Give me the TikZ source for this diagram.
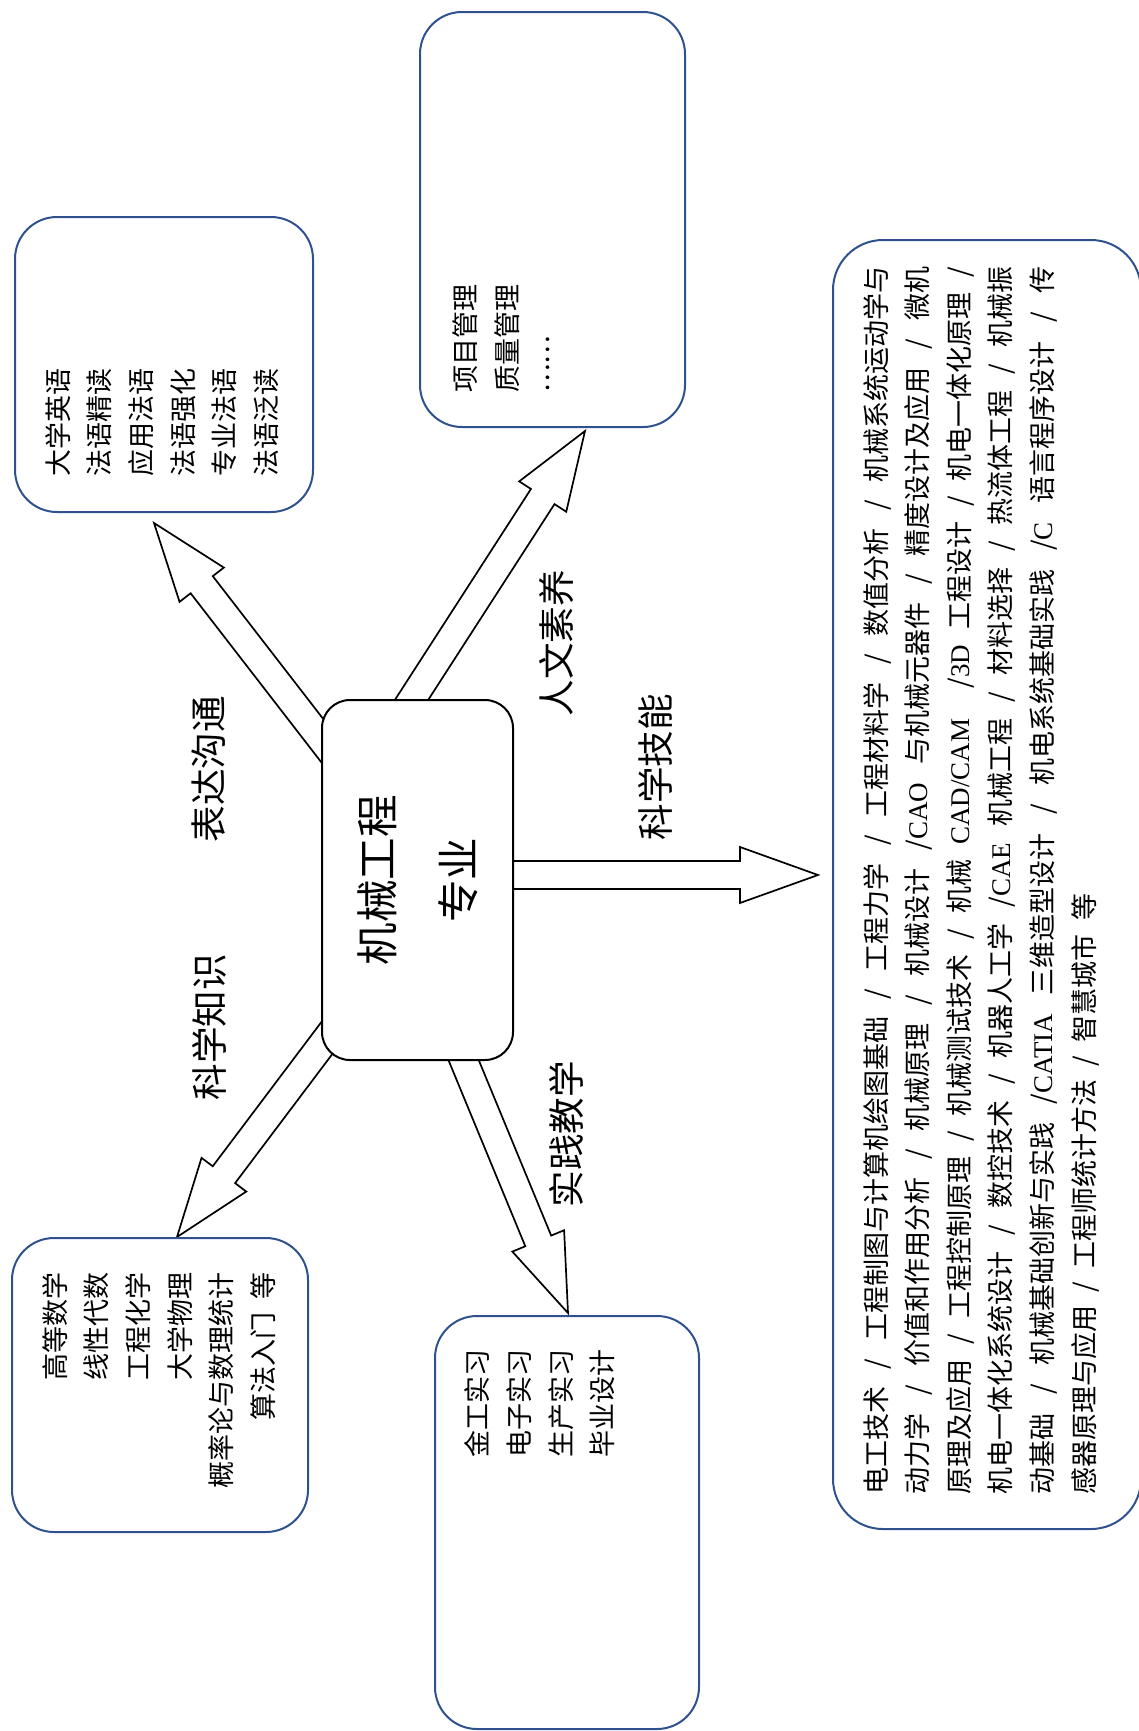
\documentclass[tikz,border=0pt]{standalone}
\usepackage{fontspec}
\setmainfont{Liberation Serif}
\newfontfamily\cjk[WordSpace=2.2]{Noto Sans CJK SC}
\usepackage{tikz}
\usetikzlibrary{calc}
\definecolor{boxblue}{HTML}{2F528F}

\begin{document}
\begin{tikzpicture}[
                x=0.5pt,
                y=-0.5pt,
                topic/.style={draw=boxblue, line width=1pt, rounded corners=21pt},
                hub/.style={draw, fill=white, line width=1pt, rounded corners=14pt,
                    rotate=90, align=center, minimum width=180pt, minimum height=95.5pt,
                    font=\cjk\fontsize{21.3}{40.5}\selectfont},
                course/.style={rotate=90, inner sep=0pt,
                    font=\cjk\fontsize{13.5}{20.8}\selectfont},
                way/.style={rotate=90, inner sep=0pt,
                    font=\cjk\fontsize{18.3}{22}\selectfont},
                fatarrow/.style={draw, fill=white, line width=0.85pt,
                    to path={($(\tikztotarget)!39pt!(\tikztostart)$) coordinate (neck)
                        ($(\tikztostart)!7pt!90:(\tikztotarget)$)
                        -- ($(neck)!7pt!90:(\tikztotarget)$)
                        -- ($(neck)!14pt!90:(\tikztotarget)$)
                        -- (\tikztotarget)
                        -- ($(neck)!14pt!-90:(\tikztotarget)$)
                        -- ($(neck)!7pt!-90:(\tikztotarget)$)
                        -- ($(\tikztostart)!7pt!-90:(\tikztotarget)$)}}]
            \useasboundingbox (0,0) rectangle (1139,1731);

            \coordinate (hum0) at (396,724);
            \coordinate (hum1) at (585,431);
            \coordinate (lan0) at (345,770);
            \coordinate (lan1) at (154,523);
            \coordinate (ski0) at (490,875);
            \coordinate (ski1) at (818,875);
            \coordinate (mat0) at (360,994);
            \coordinate (mat1) at (177,1237);
            \coordinate (pra0) at (452,1032);
            \coordinate (pra1) at (568,1313);

            \path
            (hum0) edge [fatarrow] (hum1)
            (lan0) edge [fatarrow] (lan1)
            (ski0) edge [fatarrow] (ski1)
            (mat0) edge [fatarrow] (mat1)
            (pra0) edge [fatarrow] (pra1);

            \node[hub]      (core)  at (417.5,880)  {机械工程\\专业};

            \node[way]      (humtag) at (557,643)   {人文素养};
            \node[way]      (skitag) at (655,767)   {科学技能};
            \node[way]      (lantag) at (209,769)   {表达沟通};
            \node[way]      (mattag) at (209,1027)  {科学知识};
            \node[way]      (pratag) at (566,1134)  {实践教学};

            \node[topic, minimum width=149pt, minimum height=147.5pt]   (lang)  at (164,364.5)   {};
            \node[topic, minimum width=132.5pt, minimum height=207.5pt] (human) at (552.5,219.5)  {};
            \node[topic, minimum width=154pt, minimum height=644.5pt,
                  rounded corners=25pt]                                  (skill) at (987,884.5)   {};
            \node[topic, minimum width=148pt, minimum height=147pt]     (math)  at (160,1385)    {};
            \node[topic, minimum width=132pt, minimum height=206.5pt]   (prac)  at (567,1522.5)  {};

            \node[course, anchor=west, align=left]  (langtxt)  at (162,477)
                {大学英语\\法语精读\\应用法语\\法语强化\\专业法语\\法语泛读};
            \node[course, anchor=west, align=left]  (humtxt)   at (506,393)
                {项目管理\\质量管理\\\raisebox{0.35em}{……}};
            \node[course, anchor=east, align=right] (mathtxt)  at (159,1272)
                {高等数学\\线性代数\\工程化学\\大学物理\\概率论与数理统计\\算法入门 等};
            \node[course, anchor=west, align=left]  (practxt)  at (540,1458)
                {金工实习\\电子实习\\生产实习\\毕业设计};
            \node[course, anchor=west, align=left]  (skilltxt) at (981,1495)
                {\makebox[614pt][s]{电工技术 / 工程制图与计算机绘图基础 / 工程力学 / 工程材料学 / 数值分析 / 机械系统运动学与}\\
                 \makebox[614pt][s]{动力学 / 价值和作用分析 / 机械原理 / 机械设计 /\textrm{CAO} 与机械元器件 / 精度设计及应用 / 微机}\\
                 \makebox[614pt][s]{原理及应用 / 工程控制原理 / 机械测试技术 / 机械 \textrm{CAD/CAM}\ \ /\textrm{3D} 工程设计 / 机电一体化原理 /}\\
                 \makebox[614pt][s]{机电一体化系统设计 / 数控技术 / 机器人工学 /\textrm{CAE} 机械工程 / 材料选择 / 热流体工程 / 机械振}\\
                 \makebox[614pt][s]{动基础 / 机械基础创新与实践 /\textrm{CATIA} 三维造型设计 / 机电系统基础实践 /\textrm{C} 语言程序设计 / 传}\\
                 感器原理与应用 / 工程师统计方法 / 智慧城市 等};
        \end{tikzpicture}
\end{document}
